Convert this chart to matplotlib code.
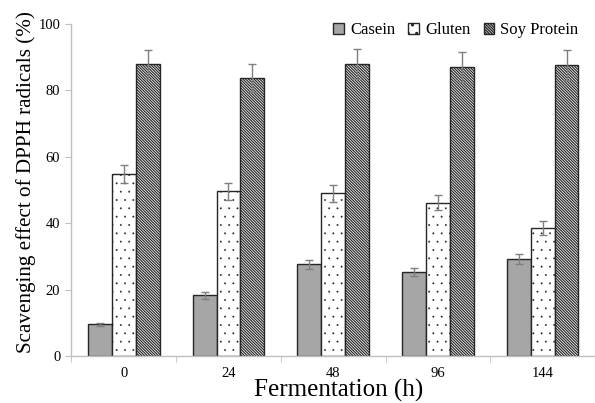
import numpy as np
import matplotlib.pyplot as plt

plt.rcParams["font.family"] = ["Liberation Serif", "DejaVu Serif"]

hours = ["0", "24", "48", "96", "144"]
casein = [9.5, 18.3, 27.6, 25.4, 29.2]
casein_err = [0.5, 1.0, 1.3, 1.2, 1.4]
gluten = [54.8, 49.6, 49.0, 46.2, 38.6]
gluten_err = [2.8, 2.5, 2.6, 2.2, 2.0]
soy = [87.9, 83.7, 88.0, 87.1, 87.7]
soy_err = [4.4, 4.3, 4.5, 4.5, 4.5]

fig = plt.figure(figsize=(5.95, 4.03), dpi=100)
ax = fig.add_axes([0.120, 0.1166, 0.88, 0.8238])

x = np.arange(len(hours))
w = 0.228
err_kw = dict(ecolor="#7f7f7f", elinewidth=1.0, capsize=3, capthick=1.0)

ax.bar(x - w, casein, w, yerr=casein_err, color="#a6a6a6", edgecolor="#262626",
       linewidth=1.0, label="Casein", error_kw=err_kw)
# hatch linewidth differs between the dotted and striped bars
with plt.rc_context({"hatch.linewidth": 0.15, "hatch.color": "#404040"}):
    ax.bar(x, gluten, w, yerr=gluten_err, color="white", edgecolor="#262626",
           linewidth=1.0, hatch="..", label="Gluten", error_kw=err_kw)
with plt.rc_context({"hatch.linewidth": 0.85}):
    ax.bar(x + w, soy, w, yerr=soy_err, color="white", edgecolor="#262626",
           linewidth=1.0, hatch="\\" * 12, label="Soy Protein", error_kw=err_kw)

ax.set_ylim(0, 100)
ax.set_xlim(-0.5, 4.415)
ax.set_yticks([0, 20, 40, 60, 80, 100])
ax.set_xticks(x)
ax.set_xticklabels(hours)
ax.set_xticks(np.arange(-0.5, 4.6, 1.0), minor=True)
ax.tick_params(axis="x", which="major", length=0, labelsize=10.5, pad=8)
ax.tick_params(axis="x", which="minor", length=4, color="#bfbfbf", direction="out")
ax.tick_params(axis="y", length=4, color="#bfbfbf", labelsize=10.5, pad=4)

for side in ["top", "right"]:
    ax.spines[side].set_visible(False)
for side in ["left", "bottom"]:
    ax.spines[side].set_color("#bfbfbf")
    ax.spines[side].set_linewidth(1.0)

ax.set_ylabel("Scavenging effect of DPPH radicals (%)", fontsize=15.2)
ax.yaxis.set_label_coords(-0.068, 0.523)
ax.set_xlabel("Fermentation (h)", fontsize=18)
ax.xaxis.set_label_coords(0.51, -0.07)

ax.legend(loc="upper right", bbox_to_anchor=(0.981, 1.025), ncol=3, frameon=False,
          fontsize=12, handlelength=0.65, handleheight=0.65, handletextpad=0.35,
          columnspacing=0.8, borderaxespad=0)

fig.savefig("out.png", dpi=100)
